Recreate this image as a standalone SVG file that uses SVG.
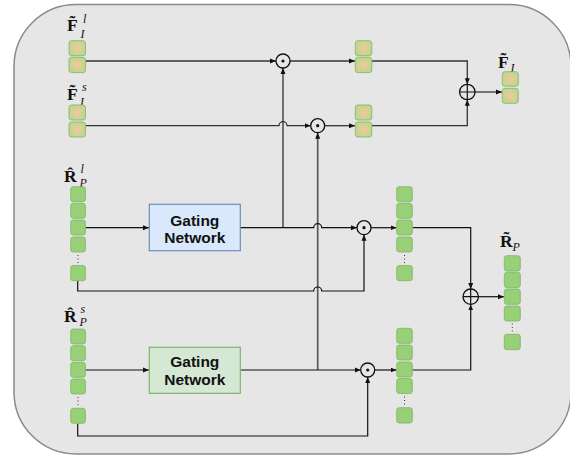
<svg xmlns="http://www.w3.org/2000/svg" width="570" height="458" viewBox="0 0 570 458">
  <style>
    .panel { fill: #e6e6e6; stroke: #8a8a8a; stroke-width: 1.5; }
    .sqR { fill: #97d077; stroke: #82b366; stroke-width: 0.8; }
    .sqF { fill: url(#featGrad); stroke: #82b366; stroke-width: 0.8; }
    .wire { fill: none; stroke: #111; stroke-width: 1.2; }
    .wireDk { fill: none; stroke: #333; stroke-width: 1.3; }
    .trunk { fill: none; stroke: #5a5a5a; stroke-width: 1.7; }
    .op { fill: #e6e6e6; stroke: #111; stroke-width: 1.3; }
    .dot { fill: #111; }
    .dots { stroke: #333; stroke-width: 1; stroke-dasharray: 1 2.5; }
    .gbox-blue { fill: #dae8fc; stroke: #6c8ebf; stroke-width: 1.2; }
    .gbox-green { fill: #d5e8d4; stroke: #82b366; stroke-width: 1.2; }
    .gtext { font-family: "Liberation Sans", Arial, sans-serif; font-weight: bold; font-size: 15.5px; fill: #111; text-anchor: middle; }
    .mb { font-family: "Liberation Serif", "DejaVu Serif", serif; font-weight: bold; font-size: 17.5px; fill: #111; }
    .mi { font-family: "Liberation Serif", "DejaVu Serif", serif; font-style: italic; font-size: 12px; fill: #111; }
  </style>
  <defs>
    <radialGradient id="featGrad" cx="0.5" cy="0.5" r="0.6">
      <stop offset="0" stop-color="#f6c79b"/>
      <stop offset="1" stop-color="#b3da8c"/>
    </radialGradient>
    <marker id="arr" markerUnits="userSpaceOnUse" markerWidth="6" markerHeight="6" refX="6" refY="3" orient="auto">
      <path d="M0,0.5 L6,3 L0,5.5 z" fill="#111"/>
    </marker>
  </defs>

  <!-- background panel -->
  <rect class="panel" x="14" y="4.5" width="557" height="449.5" rx="62" ry="62"/>

  <!-- connectors -->
  <g id="connectors">
    <!-- large-scale image feature path -->
    <path class="wireDk" d="M85.5,61 H276" marker-end="url(#arr)"/>
    <path class="trunk" d="M283,227.7 V68" marker-end="url(#arr)"/>
    <path class="wireDk" d="M290,61 H355" marker-end="url(#arr)"/>
    <!-- small-scale image feature path (hops over x=283) -->
    <path class="wireDk" d="M85.5,125.7 H279 A4,4 0 0 1 287,125.7 H310.7" marker-end="url(#arr)"/>
    <path class="trunk" d="M317.7,370 V132.7" marker-end="url(#arr)"/>
    <path class="wireDk" d="M324.7,125.7 H355" marker-end="url(#arr)"/>
    <!-- fusion of image features -->
    <path class="wireDk" d="M372,61 H467.3 V84.3" marker-end="url(#arr)"/>
    <path class="wireDk" d="M372,125.7 H467.3 V99.7" marker-end="url(#arr)"/>
    <path class="wireDk" d="M475,92 H502" marker-end="url(#arr)"/>

    <!-- large-scale point feature path -->
    <path class="wire" d="M85.5,227.7 H149" marker-end="url(#arr)"/>
    <path class="wire" d="M240.5,227.7 H313.7 A4,4 0 0 1 321.7,227.7 H357" marker-end="url(#arr)"/>
    <path class="wire" d="M77.7,281 V291 H313.7 A4,4 0 0 1 321.7,291 H364 V234.7" marker-end="url(#arr)"/>
    <path class="wire" d="M371,227.7 H396.5" marker-end="url(#arr)"/>

    <!-- small-scale point feature path -->
    <path class="wire" d="M85.5,370 H149" marker-end="url(#arr)"/>
    <path class="wire" d="M240.5,370 H360.7" marker-end="url(#arr)"/>
    <path class="wire" d="M77.7,423.5 V436 H367.7 V377" marker-end="url(#arr)"/>
    <path class="wire" d="M374.7,370 H396.5" marker-end="url(#arr)"/>

    <!-- fusion of point features -->
    <path class="wire" d="M412.5,227.7 H470.7 V289" marker-end="url(#arr)"/>
    <path class="wire" d="M412.5,370 H470.7 V304.4" marker-end="url(#arr)"/>
    <path class="wire" d="M478.4,296.7 H504" marker-end="url(#arr)"/>
  </g>

  <!-- operators -->
  <g id="mul-img-l">
    <circle class="op" cx="283" cy="61" r="7"/><circle class="dot" cx="283" cy="61" r="1.6"/>
  </g>
  <g id="mul-img-s">
    <circle class="op" cx="317.7" cy="125.7" r="7"/><circle class="dot" cx="317.7" cy="125.7" r="1.6"/>
  </g>
  <g id="mul-pts-l">
    <circle class="op" cx="364" cy="227.7" r="7"/><circle class="dot" cx="364" cy="227.7" r="1.6"/>
  </g>
  <g id="mul-pts-s">
    <circle class="op" cx="367.7" cy="370" r="7"/><circle class="dot" cx="367.7" cy="370" r="1.6"/>
  </g>
  <g id="add-img">
    <circle class="op" cx="467.3" cy="92" r="7.7"/>
    <path class="wire" d="M459.6,92 H475 M467.3,84.3 V99.7"/>
  </g>
  <g id="add-pts">
    <circle class="op" cx="470.7" cy="296.7" r="7.7"/>
    <path class="wire" d="M463,296.7 H478.4 M470.7,289 V304.4"/>
  </g>

  <!-- gating networks -->
  <g id="gate-l">
    <rect class="gbox-blue" x="149.3" y="204.3" width="91" height="46.4"/>
    <text class="gtext" x="194.8" y="225.5">Gating</text>
    <text class="gtext" x="194.8" y="243">Network</text>
  </g>
  <g id="gate-s">
    <rect class="gbox-green" x="149.3" y="347.3" width="91" height="46"/>
    <text class="gtext" x="194.8" y="367">Gating</text>
    <text class="gtext" x="194.8" y="385">Network</text>
  </g>

  <!-- image features, large scale -->
  <g id="feat-img-l">
    <text class="mb" x="67" y="31">F̃</text>
    <text class="mi" x="83" y="22.5">l</text>
    <text class="mi" x="80.5" y="38">I</text>
    <rect class="sqF" x="69" y="40.7" width="16.5" height="15" rx="2.5"/>
    <rect class="sqF" x="69" y="57.3" width="16.5" height="15.3" rx="2.5"/>
  </g>
  <!-- image features, small scale -->
  <g id="feat-img-s">
    <text class="mb" x="67" y="100">F̃</text>
    <text class="mi" x="82" y="91">s</text>
    <text class="mi" x="80" y="105.5">I</text>
    <rect class="sqF" x="69" y="105" width="16.5" height="15" rx="2.5"/>
    <rect class="sqF" x="69" y="122" width="16.5" height="15" rx="2.5"/>
  </g>
  <!-- gated image features -->
  <g id="gated-img-l">
    <rect class="sqF" x="355.3" y="40.7" width="16.5" height="15" rx="2.5"/>
    <rect class="sqF" x="355.3" y="57.3" width="16.5" height="15.3" rx="2.5"/>
  </g>
  <g id="gated-img-s">
    <rect class="sqF" x="355.3" y="105" width="16.5" height="15" rx="2.5"/>
    <rect class="sqF" x="355.3" y="122" width="16.5" height="15" rx="2.5"/>
  </g>
  <!-- fused image feature -->
  <g id="fused-img">
    <text class="mb" x="498" y="68">F̃</text>
    <text class="mi" x="510.5" y="71.5">I</text>
    <rect class="sqF" x="502.3" y="71.7" width="16" height="14.5" rx="2.5"/>
    <rect class="sqF" x="502.3" y="88.3" width="16" height="15" rx="2.5"/>
  </g>

  <!-- point features, large scale -->
  <g id="feat-pts-l">
    <text class="mb" x="64" y="182">R̂</text>
    <text class="mi" x="80.5" y="172.5">l</text>
    <text class="mi" x="79.5" y="187">P</text>
    <rect class="sqR" x="70.7" y="186.7" width="14.7" height="15" rx="2.5"/>
    <rect class="sqR" x="70.7" y="203.3" width="14.7" height="15" rx="2.5"/>
    <rect class="sqR" x="70.7" y="220" width="14.7" height="15" rx="2.5"/>
    <rect class="sqR" x="70.7" y="237" width="14.7" height="15" rx="2.5"/>
    <line class="dots" x1="78" y1="255" x2="78" y2="264"/>
    <rect class="sqR" x="70.7" y="265.5" width="14.7" height="15.2" rx="2.5"/>
  </g>
  <!-- point features, small scale -->
  <g id="feat-pts-s">
    <text class="mb" x="64" y="321.7">R̂</text>
    <text class="mi" x="80.5" y="313">s</text>
    <text class="mi" x="79.5" y="326">P</text>
    <rect class="sqR" x="70.7" y="329" width="14.7" height="15" rx="2.5"/>
    <rect class="sqR" x="70.7" y="345.7" width="14.7" height="15" rx="2.5"/>
    <rect class="sqR" x="70.7" y="362.3" width="14.7" height="15" rx="2.5"/>
    <rect class="sqR" x="70.7" y="379" width="14.7" height="15" rx="2.5"/>
    <line class="dots" x1="78" y1="397" x2="78" y2="406"/>
    <rect class="sqR" x="70.7" y="408.3" width="14.7" height="15" rx="2.5"/>
  </g>
  <!-- gated point features -->
  <g id="gated-pts-l">
    <rect class="sqR" x="396.7" y="186.7" width="15.6" height="15" rx="2.5"/>
    <rect class="sqR" x="396.7" y="203.3" width="15.6" height="15" rx="2.5"/>
    <rect class="sqR" x="396.7" y="220" width="15.6" height="15" rx="2.5"/>
    <rect class="sqR" x="396.7" y="237" width="15.6" height="15" rx="2.5"/>
    <line class="dots" x1="404.5" y1="255" x2="404.5" y2="264"/>
    <rect class="sqR" x="396.7" y="265.5" width="15.6" height="15.2" rx="2.5"/>
  </g>
  <g id="gated-pts-s">
    <rect class="sqR" x="396.7" y="328.3" width="15.6" height="15" rx="2.5"/>
    <rect class="sqR" x="396.7" y="345" width="15.6" height="15" rx="2.5"/>
    <rect class="sqR" x="396.7" y="362" width="15.6" height="15" rx="2.5"/>
    <rect class="sqR" x="396.7" y="378.5" width="15.6" height="15" rx="2.5"/>
    <line class="dots" x1="404.5" y1="396.5" x2="404.5" y2="405.5"/>
    <rect class="sqR" x="396.7" y="407.7" width="15.6" height="15.3" rx="2.5"/>
  </g>
  <!-- fused point feature -->
  <g id="fused-pts">
    <text class="mb" x="500" y="246.5">R̃</text>
    <text class="mi" x="512.5" y="250.5">P</text>
    <rect class="sqR" x="504.3" y="255.7" width="16" height="15.3" rx="2.5"/>
    <rect class="sqR" x="504.3" y="272.3" width="16" height="15.3" rx="2.5"/>
    <rect class="sqR" x="504.3" y="289" width="16" height="15.3" rx="2.5"/>
    <rect class="sqR" x="504.3" y="306" width="16" height="15" rx="2.5"/>
    <line class="dots" x1="512.3" y1="323.5" x2="512.3" y2="332.5"/>
    <rect class="sqR" x="504.3" y="334.3" width="16" height="15.4" rx="2.5"/>
  </g>
</svg>
